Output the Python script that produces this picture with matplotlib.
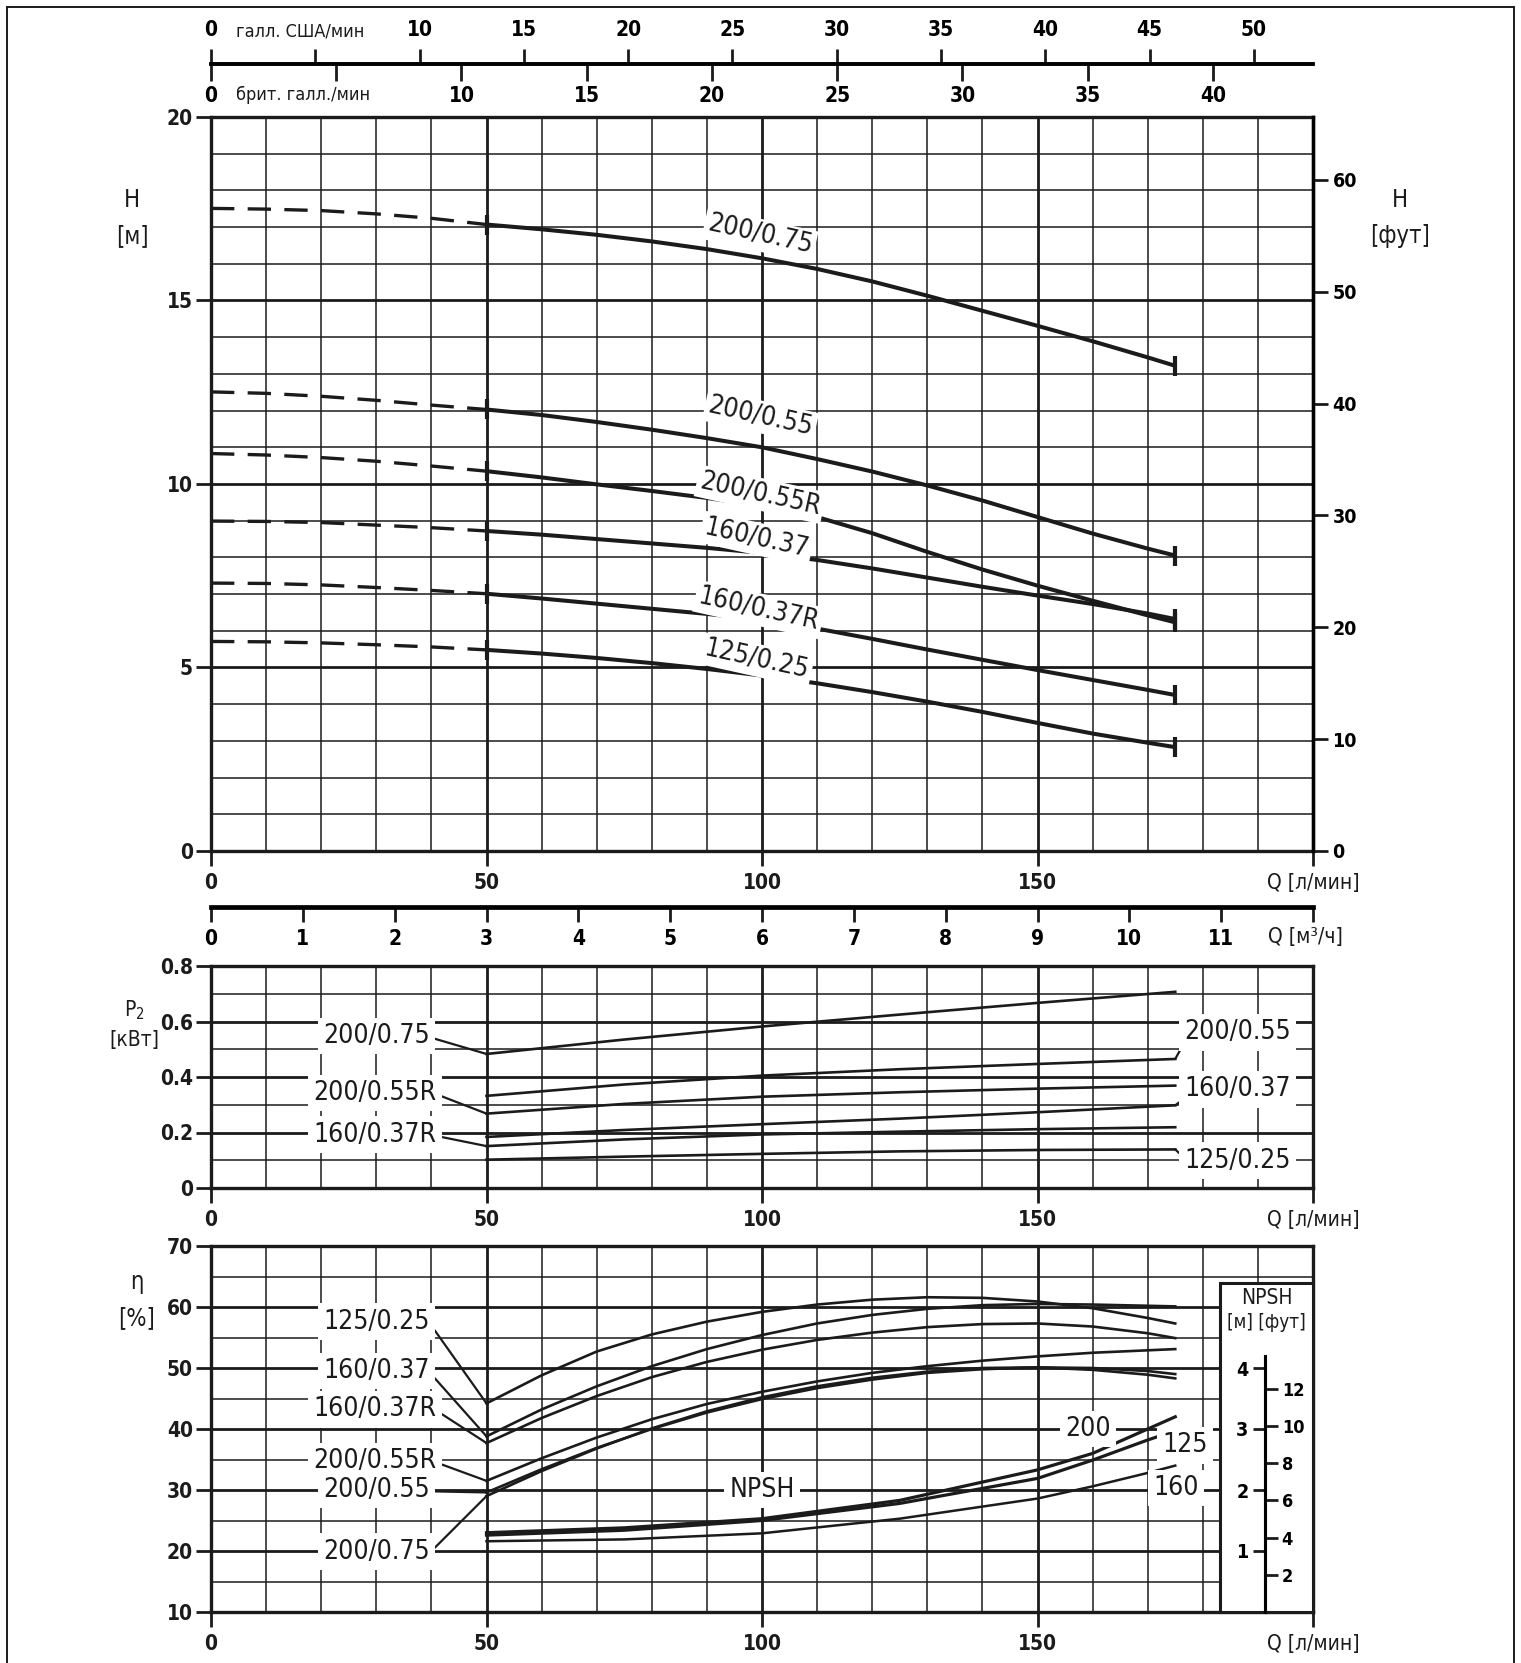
import numpy as np
import matplotlib.pyplot as plt
from matplotlib import font_manager
from matplotlib.ticker import MultipleLocator
from matplotlib.patches import Rectangle
from matplotlib.lines import Line2D

# шрифт: узкий, если есть
_names = {f.name for f in font_manager.fontManager.ttflist}
NARROW = 'Liberation Sans Narrow' if 'Liberation Sans Narrow' in _names else 'DejaVu Sans'
plt.rcParams['font.family'] = [NARROW, 'DejaVu Sans']
plt.rcParams['font.stretch'] = 'condensed'
plt.rcParams['mathtext.default'] = 'regular'

INK = '#1b1b1b'

# ---------------- ДАННЫЕ ----------------
# H(Q): Q в л/мин, H в м (до 50 л/мин - пунктир)
q_h = [0, 10, 20, 30, 40, 50, 60, 70, 80, 90, 100, 110, 120, 130, 140, 150, 160, 170, 175]
h_200_075 = [17.51, 17.49, 17.45, 17.36, 17.24, 17.07, 16.94, 16.79, 16.61, 16.40, 16.15,
             15.86, 15.52, 15.13, 14.72, 14.31, 13.89, 13.45, 13.22]
h_200_055 = [12.51, 12.47, 12.39, 12.28, 12.15, 12.03, 11.88, 11.69, 11.48, 11.25, 11.00,
             10.68, 10.34, 9.96, 9.55, 9.10, 8.65, 8.24, 8.05]
h_200_055r = [10.83, 10.79, 10.72, 10.62, 10.49, 10.35, 10.18, 9.99, 9.81, 9.62, 9.40,
              9.10, 8.66, 8.15, 7.67, 7.23, 6.82, 6.42, 6.23]
h_160_037 = [8.99, 8.98, 8.95, 8.88, 8.81, 8.72, 8.62, 8.50, 8.38, 8.26, 8.12,
             7.93, 7.70, 7.45, 7.20, 6.96, 6.73, 6.47, 6.32]
h_160_037r = [7.30, 7.29, 7.25, 7.18, 7.10, 7.01, 6.88, 6.74, 6.60, 6.46, 6.30,
              6.06, 5.78, 5.49, 5.21, 4.93, 4.66, 4.39, 4.25]
h_125_025 = [5.71, 5.70, 5.67, 5.62, 5.56, 5.48, 5.38, 5.26, 5.12, 4.96, 4.78,
             4.57, 4.33, 4.07, 3.79, 3.49, 3.20, 2.95, 2.83]

# P2(Q), кВт
q_p2 = [50, 75, 100, 125, 150, 175]
p2_200_075 = [0.483, 0.535, 0.582, 0.625, 0.667, 0.707]
p2_200_055 = [0.332, 0.373, 0.405, 0.428, 0.447, 0.465]
p2_200_055r = [0.268, 0.303, 0.329, 0.345, 0.358, 0.369]
p2_160_037 = [0.184, 0.209, 0.230, 0.250, 0.273, 0.298]
p2_160_037r = [0.151, 0.175, 0.193, 0.203, 0.212, 0.219]
p2_125_025 = [0.102, 0.113, 0.123, 0.132, 0.137, 0.139]

# КПД(Q), %
q_eff = [50, 60, 70, 80, 90, 100, 110, 120, 130, 140, 150, 160, 170, 175]
eff_125_025 = [44.2, 48.8, 52.7, 55.5, 57.6, 59.2, 60.4, 61.2, 61.6, 61.5, 60.9, 59.8, 58.2, 57.3]
eff_160_037 = [38.8, 43.2, 47.0, 50.3, 53.1, 55.4, 57.3, 58.7, 59.7, 60.3, 60.5, 60.4, 60.2, 60.1]
eff_160_037r = [37.7, 41.8, 45.4, 48.5, 51.0, 53.0, 54.6, 55.8, 56.7, 57.2, 57.3, 56.8, 55.7, 54.9]
eff_200_055r = [31.5, 35.2, 38.6, 41.6, 44.1, 46.1, 47.8, 49.2, 50.3, 51.2, 51.9, 52.5, 52.9, 53.1]
eff_200_055 = [29.6, 33.4, 36.9, 40.0, 42.7, 44.9, 46.7, 48.1, 49.2, 49.8, 50.1, 50.0, 49.5, 49.0]
eff_200_075 = [29.0, 33.1, 36.8, 40.1, 42.9, 45.2, 47.0, 48.4, 49.4, 50.0, 50.1, 49.7, 48.9, 48.3]

# NPSH(Q), м
q_npsh = [50, 75, 100, 125, 150, 160, 170, 175]
npsh_200 = [1.30, 1.38, 1.53, 1.83, 2.33, 2.60, 3.00, 3.20]
npsh_125 = [1.26, 1.34, 1.50, 1.78, 2.19, 2.49, 2.82, 2.97]
npsh_160 = [1.16, 1.19, 1.29, 1.53, 1.86, 2.06, 2.28, 2.40]

q_ticks = [0, 50, 100, 150, 200]
q_labels = ['0', '50', '100', '150', 'Q [л/мин]']
us_ticks = [0, 5, 10, 15, 20, 25, 30, 35, 40, 45, 50]
us_labels = ['0', '', '10', '15', '20', '25', '30', '35', '40', '45', '50']
imp_ticks = [0, 5, 10, 15, 20, 25, 30, 35, 40]
imp_labels = ['0', '', '10', '15', '20', '25', '30', '35', '40']
m3_ticks = list(range(13))
m3_labels = [str(v) for v in range(12)] + ['']
ft_ticks = [0, 10, 20, 30, 40, 50, 60]

# ---------------- ФИГУРА ----------------
W, H = 1521, 1663
fig = plt.figure(figsize=(W / 100, H / 100), dpi=100)


def rect(x0, y0, x1, y1):
    return [x0 / W, 1 - y1 / H, (x1 - x0) / W, (y1 - y0) / H]


def ftext(x, y, s, **kw):
    fig.text(x / W, 1 - y / H, s, **kw)


def bold_ticks(axis):
    for t in axis.get_major_ticks():
        for lab in (t.label1, t.label2):
            lab.set_fontweight('normal' if lab.get_text().startswith('Q') else 'bold')


def style(ax, yminor, yticks, ylabels):
    ax.set_xlim(0, 200)
    ax.set_xticks(q_ticks, q_labels)
    ax.set_yticks(yticks, ylabels)
    ax.xaxis.set_minor_locator(MultipleLocator(10))
    ax.yaxis.set_minor_locator(MultipleLocator(yminor))
    ax.set_axisbelow(True)
    ax.grid(which='major', color=INK, lw=2.0)
    ax.grid(which='minor', color=INK, lw=1.1)
    ax.tick_params(which='minor', length=0)
    ax.tick_params(which='major', direction='out', length=11, width=2, color=INK,
                   labelsize=15, labelcolor=INK)
    ax.tick_params(axis='x', pad=5)
    ax.tick_params(axis='y', pad=2)
    bold_ticks(ax.xaxis)
    bold_ticks(ax.yaxis)
    for sp in ax.spines.values():
        sp.set_linewidth(2.4)
        sp.set_color(INK)


lab_kw = dict(fontsize=19, color=INK, ha='center', va='center', zorder=6,
              bbox=dict(boxstyle='square,pad=0.2', fc='white', ec='none'))
lead = dict(arrowstyle='-', color=INK, lw=1.6, shrinkA=0, shrinkB=0)

# ---- H(Q) ----
ax_h = fig.add_axes(rect(211, 117, 1313, 851))
ax_h.set_ylim(0, 20)
style(ax_h, 1, [0, 5, 10, 15, 20], ['0', '5', '10', '15', '20'])

h_curves = [h_200_075, h_200_055, h_200_055r, h_160_037, h_160_037r, h_125_025]
h_label_pos = [(99.6, 16.78), (99.7, 11.83), (99.7, 9.72), (99.0, 8.51), (99.4, 6.58), (99.0, 5.20)]
h_names = ['200/0.75', '200/0.55', '200/0.55R', '160/0.37', '160/0.37R', '125/0.25']
q = np.array(q_h)
for vals, name, (lx, ly) in zip(h_curves, h_names, h_label_pos):
    v = np.array(vals)
    lo = q <= 50
    hi = q >= 50
    ax_h.plot(q[lo], v[lo], color=INK, lw=2.4, dashes=(7, 4), zorder=3)
    ax_h.plot(q[hi], v[hi], color=INK, lw=2.9, zorder=3, solid_capstyle='butt',
              solid_joinstyle='round', marker='|', markevery=[0, int(hi.sum()) - 1],
              ms=14, mew=3)
    ax_h.text(lx, ly, name, rotation=-12.5, rotation_mode='anchor',
              **{**lab_kw, 'bbox': dict(boxstyle='square,pad=0.12', fc='white', ec='none')})

# футы справа
ax_ft = ax_h.twinx()
ax_ft.set_ylim(0, 20 / 0.3048)
ax_ft.set_yticks(ft_ticks, [str(v) for v in ft_ticks], family='DejaVu Sans')
ax_ft.tick_params(axis='y', direction='out', length=11, width=2, color=INK, labelsize=14, pad=3)
bold_ticks(ax_ft.yaxis)
for s in ['top', 'bottom', 'left']:
    ax_ft.spines[s].set_visible(False)
ax_ft.spines['right'].set_linewidth(2.4)

# галл. США / брит. галл. сверху
top_loc = (851 - 64) / 734
ax_us = ax_h.twiny()
ax_us.set_xlim(0, 200 / 3.785411784)
ax_us.set_xticks(us_ticks, us_labels)
ax_us.tick_params(axis='x', direction='out', length=11, width=2, color=INK, labelsize=15, pad=6)
for s in ['left', 'right', 'bottom']:
    ax_us.spines[s].set_visible(False)
ax_us.spines['top'].set_position(('axes', top_loc))
ax_us.spines['top'].set_linewidth(2.6)

ax_imp = ax_h.twiny()
ax_imp.set_xlim(0, 200 / 4.54609)
ax_imp.xaxis.tick_bottom()
ax_imp.set_xticks(imp_ticks, imp_labels)
ax_imp.tick_params(axis='x', direction='out', length=12, width=2, color=INK, labelsize=15, pad=4)
for s in ['left', 'right', 'top']:
    ax_imp.spines[s].set_visible(False)
ax_imp.spines['bottom'].set_position(('axes', top_loc))
ax_imp.spines['bottom'].set_linewidth(2.6)

# м³/ч снизу
ax_m3 = ax_h.twiny()
ax_m3.set_xlim(0, 12)
ax_m3.xaxis.tick_bottom()
ax_m3.set_xticks(m3_ticks, m3_labels)
ax_m3.tick_params(axis='x', direction='out', length=11, width=2, color=INK, labelsize=15, pad=5)
for s in ['left', 'right', 'top']:
    ax_m3.spines[s].set_visible(False)
ax_m3.spines['bottom'].set_position(('axes', -(907 - 851) / 734))
ax_m3.spines['bottom'].set_linewidth(3.4)

# ---- P2(Q) ----
ax_p = fig.add_axes(rect(211, 966, 1313, 1188))
ax_p.set_ylim(0, 0.8)
style(ax_p, 0.1, [0, 0.2, 0.4, 0.6, 0.8], ['0', '0.2', '0.4', '0.6', '0.8'])
p2_curves = [p2_200_075, p2_200_055, p2_200_055r, p2_160_037, p2_160_037r, p2_125_025]
for vals in p2_curves:
    ax_p.plot(q_p2, vals, color=INK, lw=1.9, zorder=3)
for name, vals, (lx, ly) in [('200/0.75', p2_200_075, (30.0, 0.548)),
                             ('200/0.55R', p2_200_055r, (29.8, 0.342)),
                             ('160/0.37R', p2_160_037r, (29.8, 0.192))]:
    ax_p.annotate(name, xy=(q_p2[0], vals[0]), xytext=(lx, ly),
                  arrowprops=dict(relpos=(1, 0.45), **lead), **lab_kw)
for name, vals, (lx, ly), rp in [('200/0.55', p2_200_055, (186.3, 0.561), (0, 0.1)),
                                 ('160/0.37', p2_160_037, (186.3, 0.355), (0, 0.15)),
                                 ('125/0.25', p2_125_025, (186.3, 0.099), (0, 0.6))]:
    ax_p.annotate(name, xy=(q_p2[-1], vals[-1]), xytext=(lx, ly),
                  arrowprops=dict(relpos=rp, **lead), **lab_kw)

# ---- КПД(Q) ----
ax_e = fig.add_axes(rect(211, 1246, 1313, 1612))
ax_e.set_ylim(10, 70)
style(ax_e, 5, [10, 20, 30, 40, 50, 60, 70], ['10', '20', '30', '40', '50', '60', '70'])
eff_curves = [eff_125_025, eff_160_037, eff_160_037r, eff_200_055r, eff_200_055, eff_200_075]
eff_names = ['125/0.25', '160/0.37', '160/0.37R', '200/0.55R', '200/0.55', '200/0.75']
eff_label_pos = [(30.0, 57.6), (30.0, 49.5), (29.8, 43.2), (29.8, 34.7), (30.0, 30.0), (30.0, 19.9)]
for vals, name, (lx, ly) in zip(eff_curves, eff_names, eff_label_pos):
    ax_e.plot(q_eff, vals, color=INK, lw=1.9, zorder=3)
    ax_e.annotate(name, xy=(q_eff[0], vals[0]), xytext=(lx, ly),
                  arrowprops=dict(relpos=(1, 0.45), **lead), **lab_kw)

# рамка NPSH
ax_e.add_patch(Rectangle((183.1, 10), 200 - 183.1, 63.9 - 10, fc='white', ec=INK,
                         lw=2.2, zorder=4, clip_on=False))
ax_e.text(191.6, 61.4, 'NPSH', ha='center', va='center', fontsize=15, color=INK, zorder=6)
ax_e.text(191.6, 57.4, '[м] [фут]', ha='center', va='center', fontsize=13.5, color=INK, zorder=6)

ax_n = ax_e.twinx()
ax_n.set_ylim(0, 6)
ax_n.yaxis.tick_left()
for s in ['top', 'bottom', 'right']:
    ax_n.spines[s].set_visible(False)
ax_n.spines['left'].set_position(('data', 191.3))
ax_n.spines['left'].set_bounds(0, 4.19)
ax_n.spines['left'].set_linewidth(2.2)
ax_n.set_yticks([1, 2, 3, 4], ['1', '2', '3', '4'])
ax_n.tick_params(axis='y', direction='out', length=9, width=2, color=INK, labelsize=14, pad=3)
bold_ticks(ax_n.yaxis)

for vals in [npsh_200, npsh_125]:
    ax_n.plot(q_npsh, vals, color=INK, lw=2.3, zorder=3)
ax_n.plot(q_npsh, npsh_160, color=INK, lw=1.8, zorder=3)
ax_n.text(100, 2.0, 'NPSH', **lab_kw)
ax_n.text(159.2, 3.0, '200', **lab_kw)
ax_n.text(176.8, 2.73, '125', **lab_kw)
ax_n.text(175.2, 2.03, '160', **lab_kw)
ax_n.set_xlim(0, 200)

ax_f = ax_e.twinx()
ax_f.set_ylim(0, 6 / 0.3048)
for s in ['top', 'bottom', 'left']:
    ax_f.spines[s].set_visible(False)
ax_f.spines['right'].set_position(('data', 191.3))
ax_f.spines['right'].set_bounds(0, 4.19 / 0.3048)
ax_f.spines['right'].set_linewidth(2.2)
ax_f.set_yticks([2, 4, 6, 8, 10, 12], ['2', '4', '6', '8', '10', '12'])
ax_f.tick_params(axis='y', direction='out', length=9, width=2, color=INK, labelsize=13, pad=3)
bold_ticks(ax_f.yaxis)
ax_f.set_xlim(0, 200)

for a in (ax_us, ax_imp, ax_m3):
    bold_ticks(a.xaxis)

# ---- подписи осей ----
ftext(132, 218, 'H\n[м]', fontsize=17, ha='center', va='center', linespacing=1.6, color=INK)
ftext(1400, 218, 'H\n[фут]', fontsize=17, ha='center', va='center', linespacing=1.6, color=INK)
ftext(134, 1024, '$P_2$\n[кВт]', fontsize=15, ha='center', va='center', linespacing=1.5, color=INK)
ftext(137, 1300, 'η\n[%]', fontsize=17, ha='center', va='center', linespacing=1.6, color=INK)
ftext(236, 31, 'галл. США/мин', fontsize=13, ha='left', va='center', color=INK)
ftext(236, 95, 'брит. галл./мин', fontsize=13, ha='left', va='center', color=INK)
ftext(1305, 937, 'Q [м³/ч]', fontsize=15, ha='center', va='center', color=INK)

# рамка листа
for xs, ys in [([7, 7], [7, H]), ([7, 1514], [7, 7]), ([1514, 1514], [7, H])]:
    fig.add_artist(Line2D([x / W for x in xs], [1 - y / H for y in ys],
                          transform=fig.transFigure, color=INK, lw=1.4))

fig.savefig('out.png', dpi=100)
